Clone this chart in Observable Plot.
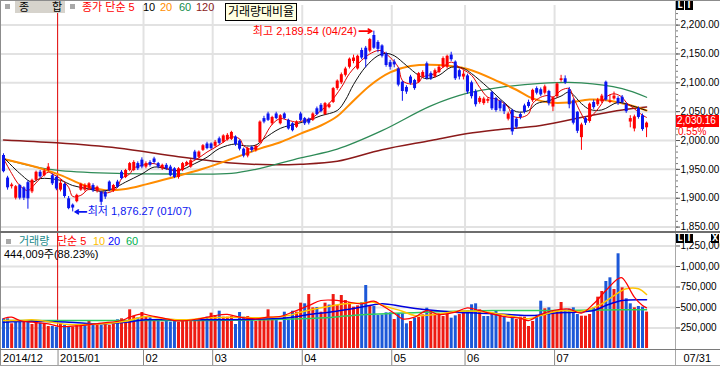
<!DOCTYPE html>
<html><head><meta charset="utf-8">
<script src="https://cdn.jsdelivr.net/npm/d3@7"></script>
<script src="https://cdn.jsdelivr.net/npm/@observablehq/plot@0.6"></script>
<style>
body{margin:0;background:#fff;}
#c{position:relative;width:720px;height:366px;overflow:hidden;background:#fff;font-family:"Liberation Sans","Noto Sans CJK KR",sans-serif;font-size:11px;}
.ov{position:absolute;white-space:nowrap;line-height:12px;font-size:11px;}
.ln{position:absolute;}
.li{position:absolute;width:8px;height:9px;background:#000;color:#fff;font:bold 8px/9px "DejaVu Sans",sans-serif;text-align:center;}
</style></head><body><div id="c"></div>
<script>
// ---- price data (KOSPI daily, 2014/12/10 .. 2015/07/31) ----
const open = [1974,1935,1920,1900,1922,1918,1927,1911,1931,1945,1939,1948,1939,1936,
1914,1924,1899,1888,1894,1914,1914,1917,1922,1912,1910,1910,1928,1913,1928,1945,1936,1948,1948,1960,1966,
1954,1962,1968,1960,1951,1957,1954,1951,1936,1948,1957,1954,1980,1971,1983,1994,1994,
1990,2003,1997,2001,2002,2006,1999,1985,1973,1988,1983,1996,2038,2046,2029,2046,2029,2046,2035,2029,2023,2046,
2038,2037,2035,2055,2061,2045,2057,2066,2090,2100,2113,2127,2137,2124,2156,2160,2155,2182,2170,2164,2150,2135,
2136,2124,2101,2092,2110,2104,2101,2110,2133,2116,2110,2118,2127,2127,2148,2136,2121,2110,
2112,2100,2085,2066,2064,2068,2083,2073,2068,2062,2037,2052,2037,2045,2060,2066,2069,2090,2088,2082,2085,2058,
2076,2104,2107,2088,2069,2049,2005,2038,2033,2066,2062,2067,2101,2066,2072,2073,2075,2062,2032,2020,2055,2043,2022];
const high = [1977,1938,1926,1922,1924,1920,1930,1933,1947,1948,1950,1960,1942,1938,
1932,1926,1903,1890,1907,1926,1925,1927,1925,1921,1912,1913,1930,1924,1931,1948,1950,1962,1965,1963,1970,
1963,1965,1971,1962,1959,1960,1957,1953,1953,1962,1964,1967,1983,1982,1993,1997,1996,
2000,2006,2010,2012,2016,2008,2001,1987,1988,1990,1992,2034,2042,2049,2042,2049,2045,2048,2037,2031,2034,2049,
2040,2039,2048,2058,2064,2066,2065,2092,2105,2117,2127,2143,2148,2148,2160,2163,2177,2189.54,2173,2166,2153,2139,
2140,2126,2103,2095,2113,2106,2118,2121,2136,2119,2124,2130,2145,2148,2153,2138,2124,2121,
2115,2103,2088,2076,2075,2074,2085,2075,2070,2066,2049,2054,2040,2048,2063,2070,2089,2093,2091,2096,2087,2076,
2100,2113,2112,2092,2072,2050,2030,2041,2065,2070,2073,2080,2103,2079,2084,2076,2078,2065,2043,2044,2058,2046,2032];
const low = [1944,1914,1916,1897,1897,1896,1881,1908,1929,1934,1937,1946,1922,1913,
1911,1900,1880,1876.27,1892,1912,1911,1913,1910,1909,1887,1898,1911,1910,1917,1932,1934,1946,1946,1948,1951,
1951,1954,1959,1951,1948,1948,1937,1934,1933,1946,1955,1952,1966,1969,1981,1984,1984,
1987,1992,1995,1999,2000,1990,1982,1970,1970,1979,1980,1995,2029,2033,2026,2036,2027,2036,2018,2015,2021,2033,
2026,2027,2033,2043,2048,2043,2055,2064,2087,2097,2110,2124,2133,2122,2140,2126,2152,2158,2152,2143,2127,2122,
2126,2093,2068,2080,2096,2087,2099,2108,2105,2104,2108,2116,2125,2124,2137,2104,2105,2105,
2080,2072,2058,2063,2061,2064,2052,2049,2050,2045,2034,2009,2020,2036,2046,2056,2066,2079,2076,2079,2060,2050,
2073,2101,2097,2055,2027,2012,1983,2026,2030,2054,2059,2064,2068,2064,2070,2061,2063,2047,2022,2015,2037,2016,2005];
const close = [1946,1918,1923,1920,1900,1900,1899,1931,1945,1937,1947,1954,1925,1916,
1926,1903,1882,1883,1905,1924,1922,1925,1913,1919,1893,1902,1913,1922,1919,1934,1948,1960,1962,1951,1954,
1960,1957,1962,1954,1957,1951,1939,1936,1951,1960,1962,1965,1968,1980,1991,1986,1986,
1997,1995,2008,2009,2014,1993,1985,1973,1986,1983,1990,2032,2032,2035,2040,2038,2043,2038,2020,2017,2032,2035,
2029,2030,2046,2045,2050,2064,2062,2090,2103,2114,2124,2141,2143,2146,2143,2140,2175,2160,2158,2146,2130,2127,
2131,2096,2085,2084,2099,2090,2116,2118,2107,2107,2121,2127,2142,2146,2140,2107,2110,2115,
2084,2076,2062,2073,2072,2071,2055,2052,2055,2050,2046,2015,2023,2040,2049,2059,2087,2082,2079,2093,2064,2074,
2098,2107,2100,2062,2030,2016,2027,2030,2063,2057,2070,2077,2070,2068,2077,2064,2066,2050,2038,2041,2040,2019,2030.16];
// volume, thousand shares
const volume = [362,362,301,341,321,341,321,293,321,309,301,268,268,260,
293,281,268,260,281,281,293,341,281,293,281,293,281,301,350,362,321,472,394,374,439,
382,374,350,341,321,341,321,341,321,350,350,329,341,350,362,382,431,
402,455,382,382,390,293,439,382,390,341,329,341,362,472,362,341,321,443,341,455,443,553,
545,658,496,500,443,553,530,658,524,646,585,560,504,520,560,768,512,512,402,409,435,435,
354,423,423,301,329,370,379,410,492,456,423,423,390,423,370,398,415,455,
463,533,545,472,390,390,431,463,410,382,321,370,354,382,382,268,329,390,577,484,496,455,
463,561,470,480,496,415,394,394,415,496,626,695,817,862,720,1155,740,606,545,496,512,503.241,444.009];
// moving averages: [candle index, value]
const ma5 = [[0,1969],[2,1943],[4,1922],[6,1913],[7,1919],[9,1934],[11,1945],[12,1942],[14,1934],[16,1919],[17,1903],[19,1905],[21,1916],[23,1916],[24,1910],[26,1910],[28,1919],[29,1934],[31,1942],[32,1952],[34,1957],[37,1960],[39,1954],[42,1948],[43,1948],[45,1958],[48,1970],[50,1980],[52,1988],[54,1997],[56,2006],[58,2003],[59,1991],[61,1985],[63,1993],[64,2005],[66,2028],[68,2038],[70,2035],[72,2032],[74,2035],[76,2040],[78,2052],[80,2064],[83,2092],[85,2116],[88,2139],[90,2150],[92,2156],[93,2155],[95,2144],[97,2127],[98,2104],[100,2098],[102,2101],[103,2110],[106,2116],[108,2127],[110,2136],[112,2127],[115,2113],[117,2092],[119,2075],[121,2072],[124,2058],[125,2043],[127,2040],[129,2046],[130,2064],[132,2075],[134,2078],[135,2075],[137,2087],[139,2090],[140,2075],[142,2046],[143,2035],[145,2046],[147,2064],[148,2075],[150,2081],[152,2075],[153,2066],[155,2055],[157,2044],[158,2040]];
const ma10 = [[0,1971],[4,1943],[7,1928],[9,1934],[14,1931],[17,1922],[21,1916],[24,1912],[27,1917],[30,1928],[34,1942],[37,1954],[40,1951],[43,1948],[47,1960],[50,1971],[53,1986],[57,1994],[59,1991],[62,1992],[64,2003],[68,2021],[72,2029],[75,2035],[78,2043],[82,2052],[84,2070],[86,2097],[89,2128],[92,2147],[94,2151],[96,2147],[99,2130],[102,2113],[104,2107],[107,2113],[110,2127],[113,2125],[115,2116],[119,2092],[123,2066],[126,2050],[129,2052],[131,2064],[134,2069],[137,2077],[139,2084],[142,2064],[144,2054],[147,2053],[151,2066],[154,2061],[158,2052]];
const ma20 = [[0,1968],[8,1954],[14,1940],[20,1922],[25,1914],[30,1916],[35,1924],[41,1935],[49,1951],[56,1968],[63,1986],[68,1997],[73,2012],[78,2026],[82,2042],[85,2062],[90,2095],[95,2118],[100,2129],[107,2131],[114,2124],[122,2101],[126,2088],[130,2073],[134,2066],[139,2066],[144,2071],[149,2069],[154,2061],[158,2052]];
const ma60 = [[0,1968],[8,1954],[14,1948],[28,1943],[43,1942],[56,1943],[62,1950],[73,1970],[82,1985],[93,2017],[105,2060],[114,2082],[122,2092],[132,2099],[142,2100],[152,2090],[158,2075]];
const ma120 = [[0,2001],[13,1996],[28,1987],[43,1972],[56,1961],[66,1958],[73,1959],[82,1964],[93,1984],[105,2000],[114,2012],[122,2019],[132,2026],[144,2043],[152,2053],[158,2058]];
const vma5 = [[0,366],[2,382],[4,341],[7,321],[11,301],[14,268],[19,280],[24,309],[29,341],[31,382],[34,423],[36,402],[39,374],[42,341],[45,341],[48,362],[52,402],[55,415],[58,382],[62,362],[65,382],[68,390],[71,443],[75,524],[78,585],[81,590],[84,573],[88,545],[91,577],[93,524],[96,431],[98,362],[101,382],[104,463],[107,415],[111,443],[114,496],[117,463],[120,423],[124,382],[127,370],[129,341],[132,415],[135,463],[139,480],[142,431],[145,545],[148,707],[151,850],[152,862],[153,800],[155,626],[157,524],[158,496]];
const vma10 = [[0,341],[4,341],[7,350],[12,321],[16,293],[24,301],[30,333],[35,390],[40,362],[45,350],[50,374],[57,382],[63,374],[70,402],[73,443],[78,496],[84,545],[88,553],[91,565],[94,512],[98,455],[101,402],[106,415],[112,455],[119,443],[124,402],[129,362],[132,402],[137,463],[142,455],[147,545],[150,646],[153,728],[156,728],[158,658]];
const vma20 = [[0,321],[7,333],[16,321],[24,301],[30,321],[35,350],[48,350],[65,362],[71,382],[75,415],[80,443],[84,472],[88,505],[93,545],[98,512],[104,472],[111,443],[117,431],[124,415],[130,402],[135,431],[140,443],[145,463],[148,524],[152,585],[158,594]];
const vma60 = [[0,341],[16,341],[33,341],[49,341],[65,350],[73,362],[81,382],[88,411],[104,443],[120,463],[137,463],[152,472],[158,472]];
// axes / labels
const priceTicks = [1850,1900,1950,2000,2050,2100,2150,2200];
const priceMinor = d3.range(1850, 2231, 10);
const volTicks = [250,500,750,1000,1250];
const monthIdx = [0,14,35,52,74,96,114,136];
const monthLabel = ["2014/12","2015/01","02","03","04","05","06","07"];
const lastDate = "07/31";
const hiDate = "04/24", loDate = "01/07";

const RED = "#ff0000", BLUE = "#0a14f0";
const VRED = "#ee1a12", VBLUE = "#1c58d8";
const GRID = "#e2e2e2";
const FONT = '"Liberation Sans","Noto Sans CJK KR",sans-serif';
const N = close.length;
const idx = d3.range(N);
const xDomain = [-0.737, 165.11];
const style = {background:"transparent", overflow:"visible", fontFamily:FONT, fontSize:"11px"};
const f2 = d3.format(",.2f");
const C = document.getElementById("c");
const hiI = d3.maxIndex(high), loI = d3.minIndex(low);
const cutoff = monthIdx[1] - 0.7;
const candleColor = i => close[i] >= open[i] ? RED : BLUE;
const volColor = i => (i > 0 && close[i] >= close[i-1]) ? VRED : VBLUE;
const lineOpts = (stroke, w) => ({x: d => d[0], y: d => d[1], stroke, strokeWidth: w, curve: "catmull-rom"});
const AX = 10;

function place(svg, top){ svg.style.position="absolute"; svg.style.left="0px"; svg.style.top=top+"px"; C.appendChild(svg); }

// ---- price panel ----
const price = Plot.plot({
  width:720, height:232, marginLeft:0, marginRight:45, marginTop:5, marginBottom:0,
  x:{domain:xDomain, axis:null}, y:{domain:[1840.6,2234], axis:null}, style,
  marks:[
    Plot.ruleY(priceTicks, {stroke:GRID, strokeWidth:2}),
    Plot.ruleX(monthIdx.slice(2), {x:d=>d-0.6, stroke:GRID, strokeWidth:2}),
    Plot.ruleX([cutoff], {stroke:"#e00000", strokeWidth:1}),
    Plot.line(ma120, lineOpts("#8b1a1a",1.5)),
    Plot.line(ma60, lineOpts("#2e8b57",1.3)),
    Plot.line(ma20, lineOpts("#ff8c00",2)),
    Plot.line(ma10, lineOpts("#111111",1)),
    Plot.line(ma5, lineOpts("#e00000",1)),
    Plot.ruleX(idx, {x:i=>i, y1:i=>low[i], y2:i=>high[i], stroke:candleColor, strokeWidth:1}),
    Plot.ruleX(idx, {x:i=>i, y1:i=>open[i], y2:i=>close[i], stroke:candleColor, strokeWidth:3}),
    Plot.arrow([hiI], {x1:i=>i-3.6, x2:i=>i-0.5, y1:i=>high[i], y2:i=>high[i], stroke:RED, strokeWidth:1.6, headLength:6}),
    Plot.text([hiI], {x:i=>i, y:i=>high[i], text:i=>`최고 ${f2(high[i])} (${hiDate})`, textAnchor:"end", dx:-17, fill:RED, fontSize:11}),
    Plot.arrow([loI], {x1:i=>i+3.4, x2:i=>i+0.6, y1:i=>low[i], y2:i=>low[i], stroke:BLUE, strokeWidth:1.6, headLength:6}),
    Plot.text([loI], {x:i=>i, y:i=>low[i], text:i=>`최저 ${f2(low[i])} (${loDate})`, textAnchor:"start", dx:15, fill:BLUE, fontSize:11}),
    Plot.axisY(priceMinor, {anchor:"right", tickSize:2, tickFormat:()=>"", stroke:"#777"}),
    Plot.axisY(priceTicks, {anchor:"right", tickSize:4, tickPadding:1, tickFormat:f2, fontSize:AX, stroke:"#555"})
  ]
});
place(price, 0);

// ---- volume panel ----
const vol = Plot.plot({
  width:720, height:117, marginLeft:0, marginRight:45, marginTop:0, marginBottom:1,
  x:{domain:xDomain, axis:null}, y:{domain:[0,1414.6], axis:null}, style,
  marks:[
    Plot.ruleY(volTicks, {stroke:GRID, strokeWidth:2}),
    Plot.ruleX(monthIdx.slice(2), {x:d=>d-0.6, stroke:GRID, strokeWidth:2}),
    Plot.ruleX([cutoff], {stroke:"#e00000", strokeWidth:1}),
    Plot.ruleX(idx, {x:i=>i, y1:0, y2:i=>volume[i], stroke:volColor, strokeWidth:3}),
    Plot.line(vma60, lineOpts("#2ecc60",1.5)),
    Plot.line(vma20, lineOpts("#0000dd",1.5)),
    Plot.line(vma10, lineOpts("#ffc400",1.5)),
    Plot.line(vma5, lineOpts("#ff0000",1.2)),
    Plot.axisY(volTicks, {anchor:"right", tickSize:4, tickPadding:1, tickFormat:d=>d3.format(",")(d*1000), fontSize:AX, stroke:"#555"})
  ]
});
place(vol, 232);

// ---- date row ----
const dates = Plot.plot({
  width:720, height:16, marginLeft:0, marginRight:45, marginTop:0, marginBottom:0,
  x:{domain:xDomain, axis:null}, style,
  marks:[
    Plot.ruleX(monthIdx.slice(1), {x:d=>d-0.6, stroke:"#8a8a8a"}),
    Plot.text(monthIdx, {x:d=>d-0.6, text:(d,k)=>monthLabel[k], textAnchor:"start", dx:2, frameAnchor:"middle", fontSize:11}),
    Plot.text([N-1], {x:xDomain[1], text:()=>lastDate, textAnchor:"start", dx:8, frameAnchor:"middle", fontSize:11})
  ]
});
place(dates, 350);

// ---- frame lines ----
function line(l,t,w,h,c){ const d=document.createElement("div"); d.className="ln"; Object.assign(d.style,{left:l+"px",top:t+"px",width:w+"px",height:h+"px",background:c}); C.appendChild(d); }
line(0,0,720,1,"#8c8c8c");
line(0,0,1,366,"#8c8c8c");
line(675,0,1,366,"#a8a8a8");
line(0,231,720,2,"#6e6e6e");
line(0,349,720,1,"#7a7a7a");
line(0,365,720,1,"#a0a0a0");

function text(l,t,s,color,extra){ const d=document.createElement("div"); d.className="ov"; d.textContent=s; Object.assign(d.style,{left:l+"px",top:t+"px",color:color||"#000"},extra||{}); C.appendChild(d); return d; }
function sq(l,t){ line(l,t,5,5,"#a8a8a8"); }
// top legend
sq(5,4);
text(15,1,"", "#000", {width:50+"px",height:12+"px",background:"#d6d3cc"});
text(19,1,"종"); text(52,1,"합");
sq(70,4);
text(82,1,"종가 단순 5",RED);
text(143,1,"10","#000");
text(160,1,"20","#ff8c00");
text(179,1,"60","#128a4a");
text(196,1,"120","#8b1a1a");
text(225,3,"거래량대비율","#000",{border:"1px solid #000",background:"#ffffe1",width:"70px",height:"16px",lineHeight:"16px",textAlign:"center",fontSize:"12px"});
// LI icons
function li(l,t,s){ const d=document.createElement("div"); d.className="li"; d.textContent=s; d.style.left=l+"px"; d.style.top=t+"px"; C.appendChild(d); }
li(676,1,"L"); li(685,1,"I");
li(676,234,"L"); li(685,234,"I"); li(711,234,"X");
// current price badge
const last = close[N-1], prev = close[N-2];
text(676,115,f2(last),"#fff",{background:RED,width:"42px",height:"12px",paddingLeft:"1px",fontSize:"10px"});
text(678,127,d3.format(".2f")((last/prev-1)*100)+"%",RED,{background:"#fff",height:"9px",lineHeight:"10px",paddingRight:"2px",fontSize:"10px"});
// volume legend
sq(6,239);
text(19,235,"거래량","#1a8a8a");
text(57,235,"단순 5",RED);
text(93,235,"10","#ffc000");
text(108,235,"20","#0000ff");
text(126,235,"60","#00b050");
text(4,248,d3.format(",")(Math.round(volume[N-1]*1000))+"주("+d3.format(".2f")(volume[N-1]/volume[N-2]*100)+"%)","#000");
</script></body></html>
